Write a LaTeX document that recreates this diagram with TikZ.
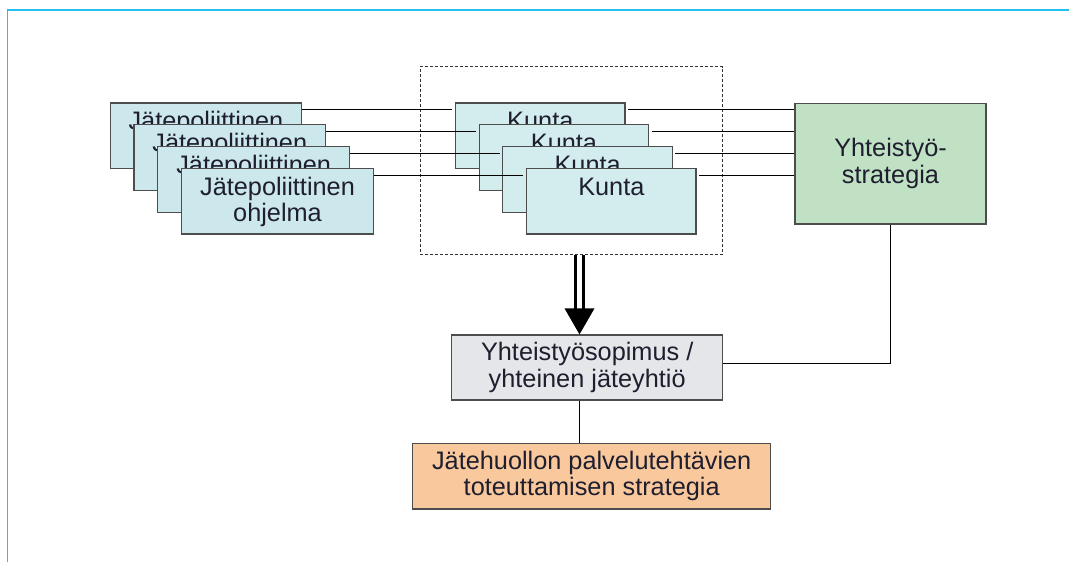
\documentclass[tikz,border=0pt]{standalone}
\usepackage{fontspec}
\setmainfont{Liberation Sans}
\usetikzlibrary{arrows.meta}
\definecolor{frameblue}{HTML}{22BFF0}
\definecolor{jpfill}{HTML}{CCE8EC}
\definecolor{kfill}{HTML}{D3ECEE}
\definecolor{yhfill}{HTML}{C1E1C5}
\definecolor{coopfill}{HTML}{E4E6E9}
\definecolor{orfill}{HTML}{F9C89D}
\definecolor{ink}{HTML}{1E1E2E}
\definecolor{boxedge}{HTML}{4D4D4D}
\tikzset{
  card/.style={draw=boxedge, line width=1.2pt, inner sep=0pt, minimum height=65.5pt},
  jpbox/.style={card, fill=jpfill, minimum width=191.6pt},
  kbox/.style={card, fill=kfill, minimum width=169.5pt},
  labeltext/.style={inner sep=0pt, align=center, text=ink,
    font=\fontsize{25.3}{26.5}\selectfont},
  toptext/.style={labeltext, anchor=north},
  link/.style={line width=1.1pt, draw=black},
  groupbox/.style={draw=black!80, line width=0.9pt, dash pattern=on 3pt off 2pt,
    minimum width=302.7pt, minimum height=187.6pt, inner sep=0pt},
}
\begin{document}
\begin{tikzpicture}[x=1pt,y=-1pt]
\useasboundingbox (0,0) rectangle (1069,562);

% page frame
\draw[frameblue, line width=1.6pt] (7.5,562) -- (7.5,10) -- (1069,10);

% stacked programme cards
\foreach \i in {1,...,4} {
  \node[jpbox] (jp\i) at ({205.9+23.87*(\i-1)}, {135.7+21.87*(\i-1)}) {};
  \node[toptext] (jpt\i) at ([yshift=-9pt]jp\i.north) {Jätepoliittinen\\ohjelma};
}

% stacked municipality cards
\foreach \i in {1,...,4} {
  \node[kbox] (k\i) at ({540.3+23.67*(\i-1)}, {135.7+21.87*(\i-1)}) {};
  \node[toptext] (kt\i) at ([yshift=-9.5pt]k\i.north) {Kunta};
}

% group of municipalities
\node[groupbox] (group) at (571.35,160.5) {};

% cooperation strategy
\node[card, fill=yhfill, minimum width=191pt, minimum height=120.7pt, labeltext]
  (yh) at (890.5,163.65) {Yhteistyö-\\strategia};

% agreement / joint company
\node[card, fill=coopfill, minimum width=271pt, minimum height=65pt, labeltext]
  (coop) at (587.2,367.5) {Yhteistyösopimus /\\yhteinen jäteyhtiö};

% service strategy
\node[card, fill=orfill, minimum width=358pt, minimum height=65.7pt, labeltext]
  (serv) at (591.7,476.2) {Jätehuollon palvelutehtävien\\toteuttamisen strategia};

% links programme -> municipality -> cooperation strategy
\foreach \i in {1,...,4} {
  \coordinate (l\i) at ([yshift=-7.3pt]jp\i.north east);
  \coordinate (m\i) at ([yshift=-7.3pt,xshift=-2.5pt]k\i.north west);
  \coordinate (r\i) at ([yshift=-7.3pt,xshift=2.5pt]k\i.north east);
  \draw[link] (l\i) -- (m\i);
  \draw[link] (r\i) -- (r\i -| yh.west);
}

% cooperation strategy -> agreement
\coordinate (ce) at ([yshift=4pt]coop.east);
\draw[link] (yh.south) |- (ce);

% double arrow from the group to the agreement
\coordinate (ax) at (579.5,0);
\coordinate (atip) at (coop.north -| ax);
\coordinate (abase) at ([yshift=26pt]atip);
\coordinate (astart) at ([yshift=-0.5pt]group.south -| ax);
\draw[line width=2.8pt, double=white, double distance=5.5pt]
  (astart) -- ([yshift=-0.5pt]abase);
\fill[black] ([xshift=-15pt]abase) -- ([xshift=15pt]abase) -- (atip) -- cycle;

% agreement -> service strategy
\draw[link] (coop.south -| ax) -- (serv.north -| ax);
\end{tikzpicture}
\end{document}
